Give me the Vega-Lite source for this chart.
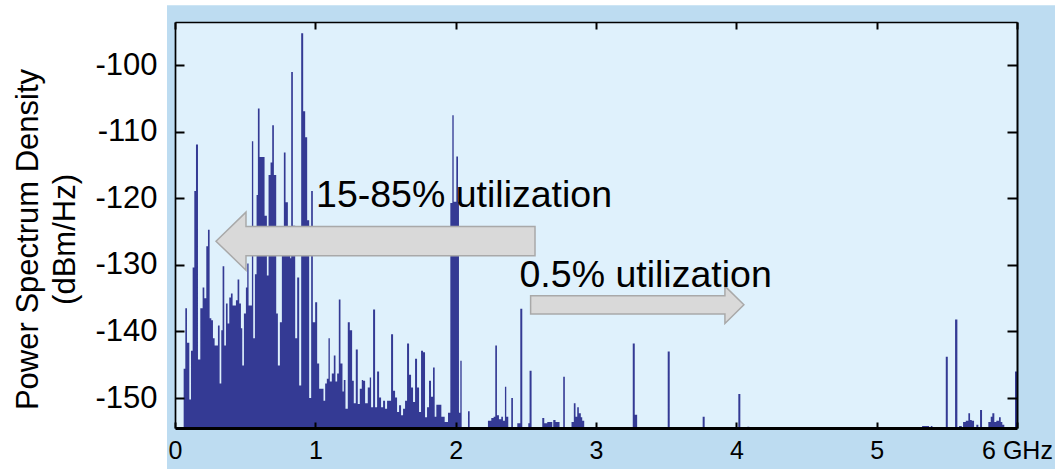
{
  "$schema": "https://vega.github.io/schema/vega-lite/v6.json",
  "width": 842,
  "height": 406,
  "autosize": {"type": "none"},
  "padding": {"left": 175, "top": 22, "right": 38, "bottom": 41},
  "background": "white",
  "view": {"stroke": null},
  "config": {
    "font": "Liberation Sans",
    "axis": {"labelFont": "Liberation Sans", "titleFont": "Liberation Sans", "labelColor": "black", "titleColor": "black", "grid": false, "tickColor": "black", "domainColor": "black"}
  },
  "datasets": {
    "spectrum": [
      {"f": 0, "p": -160}, {"f": 0.0617, "p": -145.6}, {"f": 0.0735, "p": -136.5}, {"f": 0.0854, "p": -141.7},
      {"f": 0.1020, "p": -150.2}, {"f": 0.1139, "p": -142.9}, {"f": 0.1258, "p": -130.4}, {"f": 0.1376, "p": -118.9},
      {"f": 0.1495, "p": -111.9}, {"f": 0.1637, "p": -144.2}, {"f": 0.1803, "p": -136.5}, {"f": 0.1969, "p": -133.4},
      {"f": 0.2088, "p": -135.0}, {"f": 0.2230, "p": -127.2}, {"f": 0.2349, "p": -124.7}, {"f": 0.2467, "p": -138.0},
      {"f": 0.2586, "p": -138.3}, {"f": 0.2705, "p": -141.0}, {"f": 0.2823, "p": -142.1}, {"f": 0.3060, "p": -139.1},
      {"f": 0.3179, "p": -147.8}, {"f": 0.3298, "p": -139.8}, {"f": 0.3393, "p": -130.2}, {"f": 0.3511, "p": -142.1},
      {"f": 0.3630, "p": -135.8}, {"f": 0.3749, "p": -138.8}, {"f": 0.3867, "p": -134.9}, {"f": 0.3986, "p": -134.3},
      {"f": 0.4105, "p": -136.1}, {"f": 0.4342, "p": -135.3}, {"f": 0.4460, "p": -132.2}, {"f": 0.4579, "p": -135.8},
      {"f": 0.4698, "p": -139.5}, {"f": 0.4793, "p": -145.1}, {"f": 0.4911, "p": -137.3}, {"f": 0.5053, "p": -133.4},
      {"f": 0.5148, "p": -129.8}, {"f": 0.5243, "p": -136.1}, {"f": 0.5480, "p": -111.4}, {"f": 0.5575, "p": -141.0},
      {"f": 0.5694, "p": -131.4}, {"f": 0.5813, "p": -119.5}, {"f": 0.5907, "p": -106.5}, {"f": 0.6026, "p": -113.8},
      {"f": 0.6382, "p": -122.6}, {"f": 0.6548, "p": -131.6}, {"f": 0.6667, "p": -116.5}, {"f": 0.6809, "p": -114.6},
      {"f": 0.6928, "p": -109.0}, {"f": 0.7046, "p": -116.5}, {"f": 0.7212, "p": -137.3}, {"f": 0.7331, "p": -145.1},
      {"f": 0.7473, "p": -138.6}, {"f": 0.7616, "p": -128.3}, {"f": 0.7758, "p": -113.1}, {"f": 0.7877, "p": -120.6},
      {"f": 0.8043, "p": -128.3}, {"f": 0.8209, "p": -129.0}, {"f": 0.8280, "p": -101.0}, {"f": 0.8399, "p": -124.1},
      {"f": 0.8565, "p": -141.0}, {"f": 0.8707, "p": -131.9}, {"f": 0.8849, "p": -148.1}, {"f": 0.8992, "p": -95.2},
      {"f": 0.9134, "p": -106.9}, {"f": 0.9276, "p": -110.8}, {"f": 0.9418, "p": -123.3}, {"f": 0.9561, "p": -150.0},
      {"f": 0.9703, "p": -118.9}, {"f": 0.9822, "p": -138.6}, {"f": 0.9988, "p": -135.6}, {"f": 1.0130, "p": -144.8},
      {"f": 1.0273, "p": -148.6}, {"f": 1.0581, "p": -150.4}, {"f": 1.0700, "p": -147.8}, {"f": 1.0819, "p": -147.1},
      {"f": 1.0937, "p": -141.0}, {"f": 1.1032, "p": -147.5}, {"f": 1.1174, "p": -146.3}, {"f": 1.1317, "p": -143.6},
      {"f": 1.1435, "p": -147.5}, {"f": 1.1554, "p": -146.3}, {"f": 1.1673, "p": -135.2}, {"f": 1.1791, "p": -144.8},
      {"f": 1.1934, "p": -149.0}, {"f": 1.2028, "p": -147.3}, {"f": 1.2147, "p": -151.6}, {"f": 1.2313, "p": -138.6},
      {"f": 1.2456, "p": -139.8}, {"f": 1.2621, "p": -147.4}, {"f": 1.2740, "p": -150.8}, {"f": 1.2883, "p": -142.7},
      {"f": 1.3025, "p": -150.9}, {"f": 1.3167, "p": -148.6}, {"f": 1.3310, "p": -147.3}, {"f": 1.3405, "p": -147.4},
      {"f": 1.3547, "p": -150.8}, {"f": 1.3737, "p": -148.4}, {"f": 1.3879, "p": -146.9}, {"f": 1.3974, "p": -151.4},
      {"f": 1.4116, "p": -136.7}, {"f": 1.4258, "p": -151.4}, {"f": 1.4401, "p": -146.0}, {"f": 1.4543, "p": -149.9},
      {"f": 1.4685, "p": -151.4}, {"f": 1.4828, "p": -150.4}, {"f": 1.4970, "p": -151.6}, {"f": 1.5112, "p": -150.4},
      {"f": 1.5397, "p": -140.4}, {"f": 1.5540, "p": -148.9}, {"f": 1.5682, "p": -149.9}, {"f": 1.5824, "p": -152.1},
      {"f": 1.5967, "p": -151.1}, {"f": 1.6109, "p": -152.6}, {"f": 1.6251, "p": -151.6}, {"f": 1.6394, "p": -150.4},
      {"f": 1.6536, "p": -141.8}, {"f": 1.6679, "p": -146.5}, {"f": 1.6821, "p": -148.4}, {"f": 1.6963, "p": -150.6},
      {"f": 1.7106, "p": -144.1}, {"f": 1.7248, "p": -148.4}, {"f": 1.7390, "p": -152.1}, {"f": 1.7533, "p": -142.9},
      {"f": 1.7675, "p": -143.1}, {"f": 1.7817, "p": -152.9}, {"f": 1.7960, "p": -151.4}, {"f": 1.8102, "p": -147.4},
      {"f": 1.8244, "p": -149.8}, {"f": 1.8387, "p": -145.4}, {"f": 1.8505, "p": -152.8}, {"f": 1.8624, "p": -151.0},
      {"f": 1.8980, "p": -152.8}, {"f": 1.9217, "p": -153.6}, {"f": 1.9454, "p": -152.2}, {"f": 1.9620, "p": -120.7},
      {"f": 1.9763, "p": -107.5}, {"f": 1.9858, "p": -120.5}, {"f": 2.0047, "p": -113.7}, {"f": 2.0166, "p": -120.5},
      {"f": 2.0235, "p": -152.2}, {"f": 2.0332, "p": -144.4}, {"f": 2.0427, "p": -160}, {"f": 2.0878, "p": -152.0},
      {"f": 2.0996, "p": -160}, {"f": 2.2301, "p": -153.4}, {"f": 2.2538, "p": -153.0}, {"f": 2.2705, "p": -152.8},
      {"f": 2.2823, "p": -142.1}, {"f": 2.2942, "p": -152.6}, {"f": 2.3084, "p": -153.2}, {"f": 2.3250, "p": -152.8},
      {"f": 2.3369, "p": -153.4}, {"f": 2.3511, "p": -148.3}, {"f": 2.3606, "p": -152.8}, {"f": 2.3749, "p": -160},
      {"f": 2.3962, "p": -150.0}, {"f": 2.4081, "p": -160}, {"f": 2.4391, "p": -153.8}, {"f": 2.4605, "p": -136.6},
      {"f": 2.4747, "p": -160}, {"f": 2.5174, "p": -153.8}, {"f": 2.5267, "p": -145.9}, {"f": 2.5409, "p": -160},
      {"f": 2.6171, "p": -153.0}, {"f": 2.6313, "p": -153.8}, {"f": 2.6527, "p": -153.6}, {"f": 2.6883, "p": -160},
      {"f": 2.6954, "p": -153.3}, {"f": 2.7117, "p": -153.6}, {"f": 2.7402, "p": -160}, {"f": 2.7665, "p": -146.8},
      {"f": 2.7779, "p": -160}, {"f": 2.8256, "p": -153.6}, {"f": 2.8420, "p": -150.8}, {"f": 2.8541, "p": -152.8},
      {"f": 2.8662, "p": -151.4}, {"f": 2.8776, "p": -152.3}, {"f": 2.8918, "p": -152.9}, {"f": 2.9018, "p": -153.4},
      {"f": 2.9160, "p": -160}, {"f": 3.2619, "p": -141.8}, {"f": 3.2762, "p": -152.5}, {"f": 3.2932, "p": -160},
      {"f": 3.5110, "p": -143.0}, {"f": 3.5253, "p": -160}, {"f": 3.7601, "p": -152.8}, {"f": 3.7744, "p": -160},
      {"f": 4.0142, "p": -149.4}, {"f": 4.0285, "p": -160}, {"f": 4.0783, "p": -154.3}, {"f": 4.0925, "p": -160},
      {"f": 5.3238, "p": -154.2}, {"f": 5.3737, "p": -160}, {"f": 5.3858, "p": -154.2}, {"f": 5.3972, "p": -160},
      {"f": 5.4925, "p": -143.8}, {"f": 5.5068, "p": -160}, {"f": 5.5587, "p": -138.2}, {"f": 5.5751, "p": -160},
      {"f": 5.5872, "p": -154.2}, {"f": 5.6064, "p": -160}, {"f": 5.6157, "p": -153.6}, {"f": 5.6349, "p": -153.4},
      {"f": 5.6534, "p": -152.3}, {"f": 5.6655, "p": -153.3}, {"f": 5.6776, "p": -153.4}, {"f": 5.6940, "p": -160},
      {"f": 5.7103, "p": -154.0}, {"f": 5.7246, "p": -160}, {"f": 5.7367, "p": -151.8}, {"f": 5.7509, "p": -160},
      {"f": 5.7957, "p": -153.6}, {"f": 5.8128, "p": -152.8}, {"f": 5.8242, "p": -152.3}, {"f": 5.8384, "p": -153.6},
      {"f": 5.8527, "p": -153.4}, {"f": 5.8719, "p": -152.9}, {"f": 5.8840, "p": -153.6}, {"f": 5.8954, "p": -154.0},
      {"f": 5.9096, "p": -160}, {"f": 5.9858, "p": -146.0}, {"f": 6.0, "p": -146.0}
    ],
    "notes": [
      {"label": "15-85% utilization", "f": 1.005, "db": -121.3},
      {"label": "0.5% utilization", "f": 2.455, "db": -133.3}
    ]
  },
  "layer": [
    {
      "data": {"values": [{}]},
      "mark": {"type": "rect", "color": "#bddcf1"},
      "encoding": {
        "x": {"datum": -0.057, "type": "quantitative", "scale": {"domain": [0, 6], "nice": false, "zero": false}, "axis": null},
        "x2": {"datum": 6.6},
        "y": {"datum": -91.0, "type": "quantitative", "scale": {"domain": [-154.5, -93.5], "nice": false, "zero": false}, "axis": null},
        "y2": {"datum": -175}
      }
    },
    {
      "data": {"values": [{}]},
      "mark": {"type": "rect", "color": "#dff1fc"},
      "encoding": {
        "x": {"datum": 0, "type": "quantitative", "scale": {"domain": [0, 6], "nice": false, "zero": false},
              "axis": {"orient": "top", "values": [0, 1, 2, 3, 4, 5, 6], "labels": false, "title": null, "tickSize": -7, "tickWidth": 2, "domainWidth": 1.5, "zindex": 1}},
        "x2": {"datum": 6},
        "y": {"datum": -93.5, "type": "quantitative", "scale": {"domain": [-154.5, -93.5], "nice": false, "zero": false},
              "axis": {"orient": "right", "values": [-150, -140, -130, -120, -110, -100], "labels": false, "title": null, "tickSize": -10, "tickWidth": 2, "domainWidth": 2, "zindex": 1}},
        "y2": {"datum": -154.5}
      }
    },
    {
      "data": {"name": "spectrum"},
      "mark": {"type": "area", "interpolate": "step-after", "color": "#343a94", "clip": true},
      "encoding": {
        "x": {"field": "f", "type": "quantitative", "scale": {"domain": [0, 6], "nice": false, "zero": false},
              "axis": {"orient": "bottom", "values": [0, 1, 2, 3, 4, 5, 6], "format": "d", "labelExpr": "datum.value == 6 ? '6 GHz' : datum.label",
                       "labelFontSize": 25, "labelPadding": 16, "tickSize": -6, "tickWidth": 2, "domainWidth": 3, "title": null,
                       "labelFlush": false, "labelOverlap": false, "labelBound": false, "zindex": 1}},
        "y": {"field": "p", "type": "quantitative", "scale": {"domain": [-154.5, -93.5], "nice": false, "zero": false},
              "axis": {"orient": "left", "values": [-150, -140, -130, -120, -110, -100], "labelExpr": "'' + datum.value", "labelFontSize": 31, "labelPadding": 27,
                       "tickSize": -9, "tickWidth": 2, "domainWidth": 1.7, "labelOverlap": false, "labelBound": false, "zindex": 1,
                       "title": ["Power Spectrum Density", "(dBm/Hz)"], "titleFontSize": 31, "titleFontWeight": "normal",
                       "titleAngle": -90, "titleAlign": "center", "titleBaseline": "alphabetic", "titleLineHeight": 37,
                       "titleX": -138, "titleY": 217}},
        "y2": {"datum": -160}
      }
    },
    {
      "data": {"values": [{"f": 1.4288, "db": -126.43}]},
      "mark": {"type": "point", "filled": true, "fill": "#d9d9d9", "stroke": "#a9a9a9", "strokeWidth": 1.5, "opacity": 1, "fillOpacity": 1,
               "size": 101761, "shape": "M-1,0 L-0.812,-0.182 L-0.812,-0.092 L1,-0.092 L1,0.092 L-0.812,0.092 L-0.812,0.182 Z"},
      "encoding": {
        "x": {"field": "f", "type": "quantitative", "scale": {"domain": [0, 6], "nice": false, "zero": false}, "axis": null},
        "y": {"field": "db", "type": "quantitative", "scale": {"domain": [-154.5, -93.5], "nice": false, "zero": false}, "axis": null}
      }
    },
    {
      "data": {"values": [{"f": 3.294, "db": -135.99}]},
      "mark": {"type": "point", "filled": true, "fill": "#d9d9d9", "stroke": "#a9a9a9", "strokeWidth": 1.5, "opacity": 1, "fillOpacity": 1,
               "size": 45497, "shape": "M1,0 L0.822,-0.175 L0.822,-0.086 L-1,-0.086 L-1,0.086 L0.822,0.086 L0.822,0.175 Z"},
      "encoding": {
        "x": {"field": "f", "type": "quantitative", "scale": {"domain": [0, 6], "nice": false, "zero": false}, "axis": null},
        "y": {"field": "db", "type": "quantitative", "scale": {"domain": [-154.5, -93.5], "nice": false, "zero": false}, "axis": null}
      }
    },
    {
      "data": {"name": "notes"},
      "mark": {"type": "text", "align": "left", "baseline": "alphabetic", "fontSize": 37.5, "font": "Liberation Sans", "color": "black"},
      "encoding": {
        "x": {"field": "f", "type": "quantitative", "scale": {"domain": [0, 6], "nice": false, "zero": false}, "axis": null},
        "y": {"field": "db", "type": "quantitative", "scale": {"domain": [-154.5, -93.5], "nice": false, "zero": false}, "axis": null},
        "text": {"field": "label", "type": "nominal"}
      }
    }
  ],
  "resolve": {"axis": {"x": "independent", "y": "independent"}}
}
